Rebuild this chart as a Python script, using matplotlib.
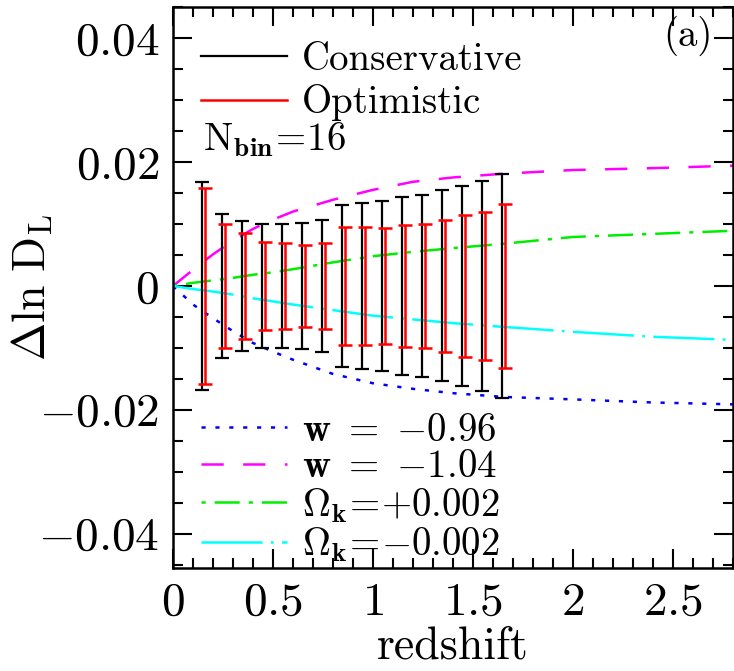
import numpy as np
import matplotlib
matplotlib.use("Agg")
import matplotlib.pyplot as plt
from matplotlib.lines import Line2D

plt.rcParams['font.family'] = 'serif'
plt.rcParams['font.serif'] = ['cmr10']
plt.rcParams['mathtext.fontset'] = 'cm'
plt.rcParams['axes.formatter.use_mathtext'] = True
plt.rcParams['lines.scale_dashes'] = False

# redshift bins and fractional errors on ln D_L
z_bins = [0.15, 0.25, 0.35, 0.45, 0.55, 0.65, 0.75, 0.85,
          0.95, 1.05, 1.15, 1.25, 1.35, 1.45, 1.55, 1.65]
err_cons = [0.0168, 0.0116, 0.0105, 0.0100, 0.0100, 0.0102, 0.0106, 0.0131,
            0.0134, 0.0137, 0.0143, 0.0147, 0.0154, 0.0161, 0.0170, 0.0180]
err_opt = [0.0158, 0.0100, 0.0085, 0.0071, 0.0069, 0.0066, 0.0069, 0.0095,
           0.0095, 0.0094, 0.0099, 0.0100, 0.0107, 0.0114, 0.0119, 0.0132]

# model curves
z_curve = [0, 0.1, 0.2, 0.3, 0.4, 0.5, 0.6, 0.8, 1.0, 1.2, 1.4, 1.65, 2.0, 2.4, 2.8]
d_w096 = [0, -0.0030, -0.0052, -0.0073, -0.0092, -0.0106, -0.0119, -0.0142,
          -0.0157, -0.0166, -0.0173, -0.0179, -0.0183, -0.0188, -0.0191]
d_w104 = [0, 0.0026, 0.0051, 0.0073, 0.0092, 0.0107, 0.0120, 0.0139,
          0.0155, 0.0168, 0.0175, 0.0181, 0.0187, 0.0190, 0.0194]
d_okp = [0, 0.0005, 0.0009, 0.0013, 0.0018, 0.0022, 0.0027, 0.0038,
         0.0048, 0.0055, 0.0061, 0.0068, 0.0079, 0.0084, 0.0089]
d_okm = [0, -0.0005, -0.0009, -0.0014, -0.0020, -0.0025, -0.0030, -0.0039,
         -0.0048, -0.0054, -0.0060, -0.0066, -0.0074, -0.0082, -0.0087]

xticks = [0, 0.5, 1, 1.5, 2, 2.5]
xticklabels = ['$0$', '$0.5$', '$1$', '$1.5$', '$2$', '$2.5$']
yticks = [-0.04, -0.02, 0, 0.02, 0.04]
yticklabels = ['$-0.04$', '$-0.02$', '$0$', '$0.02$', '$0.04$']

fig = plt.figure(figsize=(7.34, 6.71), dpi=100)
ax = fig.add_axes([0.2357, 0.1535, 0.7629, 0.8361])

zb = np.array(z_bins)
ax.errorbar(zb - 0.005, np.zeros_like(zb), yerr=err_cons, fmt='none', ecolor='black',
            elinewidth=1.6, capsize=5, capthick=1.6, zorder=3)
ax.errorbar(zb + 0.01, np.zeros_like(zb), yerr=err_opt, fmt='none', ecolor='red',
            elinewidth=1.8, capsize=5, capthick=1.8, zorder=4)

lw = 1.8
l1, = ax.plot(z_curve, d_w096, color='blue', lw=lw, dashes=(3, 7), zorder=2)
l2, = ax.plot(z_curve, d_w104, color='magenta', lw=lw, dashes=(16, 14), zorder=2)
l3, = ax.plot(z_curve, d_okp, color='#00ee00', lw=lw, dashes=(3, 6.5, 18, 6.5), zorder=2)
l4, = ax.plot(z_curve, d_okm, color='cyan', lw=lw, dashes=(44, 6, 2, 6), zorder=2)

ax.set_xlim(0, 2.8)
ax.set_ylim(-0.0455, 0.0450)
ax.set_xticks(xticks)
ax.set_xticklabels(xticklabels)
ax.set_yticks(yticks)
ax.set_yticklabels(yticklabels)
ax.set_xticks(np.arange(0, 2.81, 0.1), minor=True)
ax.set_yticks(np.arange(-0.045, 0.0451, 0.005), minor=True)
ax.tick_params(which='both', direction='in', top=True, right=True, labelsize=34, width=1.5)
ax.tick_params(which='major', length=14, pad=10)
ax.tick_params(which='minor', length=7)
for s in ax.spines.values():
    s.set_linewidth(1.8)

ax.set_xlabel('redshift', fontsize=33, labelpad=2)
ax.set_ylabel(r'$\Delta\mathrm{ln}\ \mathrm{D}_\mathrm{L}$', fontsize=33)
ax.yaxis.set_label_coords(-0.21, 0.5)

h_cons = Line2D([], [], color='black', lw=1.6)
h_opt = Line2D([], [], color='red', lw=1.8)
leg1 = ax.legend([h_cons, h_opt], ['Conservative', 'Optimistic'], loc='upper left',
                 bbox_to_anchor=(0.05, 0.938), frameon=False, fontsize=28,
                 handlelength=2.2, handletextpad=0.4, labelspacing=0.17,
                 borderpad=0, borderaxespad=0)
ax.add_artist(leg1)
ax.text(0.053, 0.745, r'$\mathrm{N}_{\mathbf{bin}}\!=\!16$', transform=ax.transAxes,
        fontsize=28, va='baseline')
ax.text(0.963, 0.985, '(a)', transform=ax.transAxes, fontsize=28, ha='right', va='top')

ax.legend([l1, l2, l3, l4],
          [r'$\mathbf{w}\ =\ {-}0.96$', r'$\mathbf{w}\ =\ {-}1.04$',
           r'$\Omega_{\mathbf{k}}\!=\!{+}0.002$', r'$\Omega_{\mathbf{k}}\!=\!{-}0.002$'],
          loc='lower left', bbox_to_anchor=(0.05, 0.007), frameon=False, fontsize=28,
          handlelength=2.2, handletextpad=0.4, labelspacing=0.02,
          borderpad=0, borderaxespad=0)

fig.savefig('out.png', dpi=100)
